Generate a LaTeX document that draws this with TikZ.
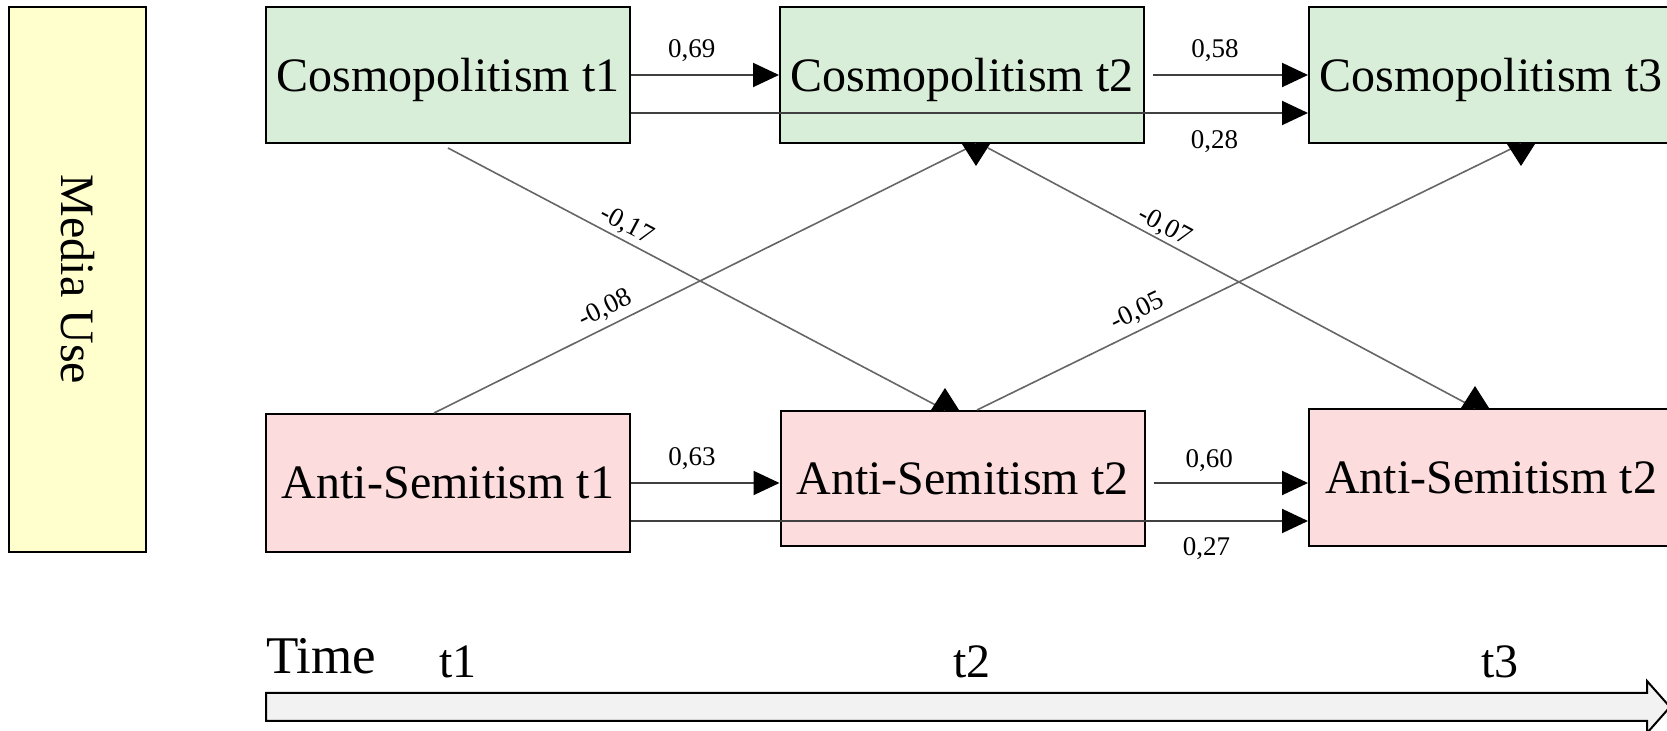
\documentclass[tikz,border=0pt]{standalone}
\usepackage{fontspec}
\setmainfont{Liberation Serif}
\usetikzlibrary{calc, positioning}
\usetikzlibrary{arrows.meta}

\definecolor{cosmoFill}{RGB}{216,238,216}
\definecolor{antiFill}{RGB}{252,220,220}
\definecolor{mediaFill}{RGB}{255,255,205}
\definecolor{timeFill}{RGB}{242,242,242}

\tikzset{
  bigtext/.style={font=\fontsize{24}{28}\selectfont},
  varbox/.style={draw=black, line width=1pt, minimum width=182pt, minimum height=68pt, inner sep=0pt, bigtext, text depth=0pt},
  cosmo/.style={varbox, fill=cosmoFill},
  anti/.style={varbox, fill=antiFill},
  effect/.style={draw=black!75, line width=1pt, -{Triangle[length=13pt,width=12pt,color=black]}},
  cross/.style={draw=black!60, line width=0.8pt},
  coef/.style={font=\fontsize{13.5}{16}\selectfont, inner sep=0pt},
}

% upright tip sitting on a box edge
\newcommand{\vtip}[2]{\fill (#1) ++(-14,0) -- ++(28,0) -- ++(-14,#2) -- cycle;}

\begin{document}
\begin{tikzpicture}[x=0.5pt, y=-0.5pt]
\useasboundingbox (0,0) rectangle (1667,731);
\clip (0,0) rectangle (1667,731);

\node[draw, line width=1.3pt, fill=mediaFill, rotate=-90, minimum width=272.5pt, minimum height=68.5pt, inner sep=0pt, bigtext] (media) at (77.5,279.5) {Media Use};

\node[cosmo] (C1) at (448,75) {Cosmopolitism t1};
\node[cosmo] (C2) at (962,75) {Cosmopolitism t2};
\node[cosmo] (C3) at (1491,75) {Cosmopolitism t3};

\node[anti, minimum height=69pt] (A1) at (448,483) {Anti-Semitism t1};
\node[anti, minimum height=67.5pt] (A2) at (962.5,478.5) {Anti-Semitism t2};
\node[anti, minimum height=68.5pt] (A3) at (1491,477.5) {Anti-Semitism t2};

% stability paths
\draw[effect] (C1.east) -- node[coef, above=6pt, pos=0.41] {0,69} (C2.west);
\draw[effect] ([xshift=4pt]C2.east) -- node[coef, above=6pt, pos=0.4] {0,58} (C3.west);
\draw[effect] ([yshift=-19pt]C1.east) -- node[coef, below=8.5pt, pos=0.862] {0,28} ([yshift=-19pt]C3.west);

\draw[effect] (A1.east) -- node[coef, above=6pt, pos=0.41] {0,63} (A1.east -| A2.west);
\draw[effect] ($(A2.east |- A1.east)+(8,0)$) -- node[coef, above=5pt, pos=0.36] {0,60} (A1.east -| A3.west);
\draw[effect] ([yshift=-19pt]A1.east) -- node[coef, below=8pt, pos=0.85] {0,27} ([yshift=-19pt]A1.east -| A3.west);

% cross-lagged paths
\draw[cross] ([yshift=-2pt]C1.south) -- node[coef, sloped, above=1.5pt, pos=0.345] {-0,17} ([xshift=-8.75pt]A2.north);
\vtip{[xshift=-8.75pt]A2.north}{-22}
\draw[cross] ([xshift=-7pt]A1.north) -- node[coef, sloped, above=2.5pt, pos=0.33] {-0,08} ([xshift=7pt]C2.south);
\vtip{[xshift=7pt]C2.south}{22}
\draw[cross] ([xshift=13pt, yshift=-2pt]C2.south) -- node[coef, sloped, above=1pt, pos=0.35] {-0,07} ([xshift=-8pt]A3.north);
\vtip{[xshift=-8pt]A3.north}{-22}
\draw[cross] ([xshift=7.25pt]A2.north) -- node[coef, sloped, above=3pt, pos=0.31] {-0,05} ([xshift=15pt]C3.south);
\vtip{[xshift=15pt]C3.south}{22}

% time axis
\draw[line width=1pt, fill=timeFill] (266,693) -- (1647,693) -- (1647,681) -- (1670,707) -- (1647,733) -- (1647,721) -- (266,721) -- cycle;
\node[font=\fontsize{26.5}{30}\selectfont] (time) at (321,656) {Time};
\node[bigtext] (tOne) at (458,662) {t1};
\node[bigtext] (tTwo) at (972,662) {t2};
\node[bigtext] (tThree) at (1500,662) {t3};
\end{tikzpicture}
\end{document}
